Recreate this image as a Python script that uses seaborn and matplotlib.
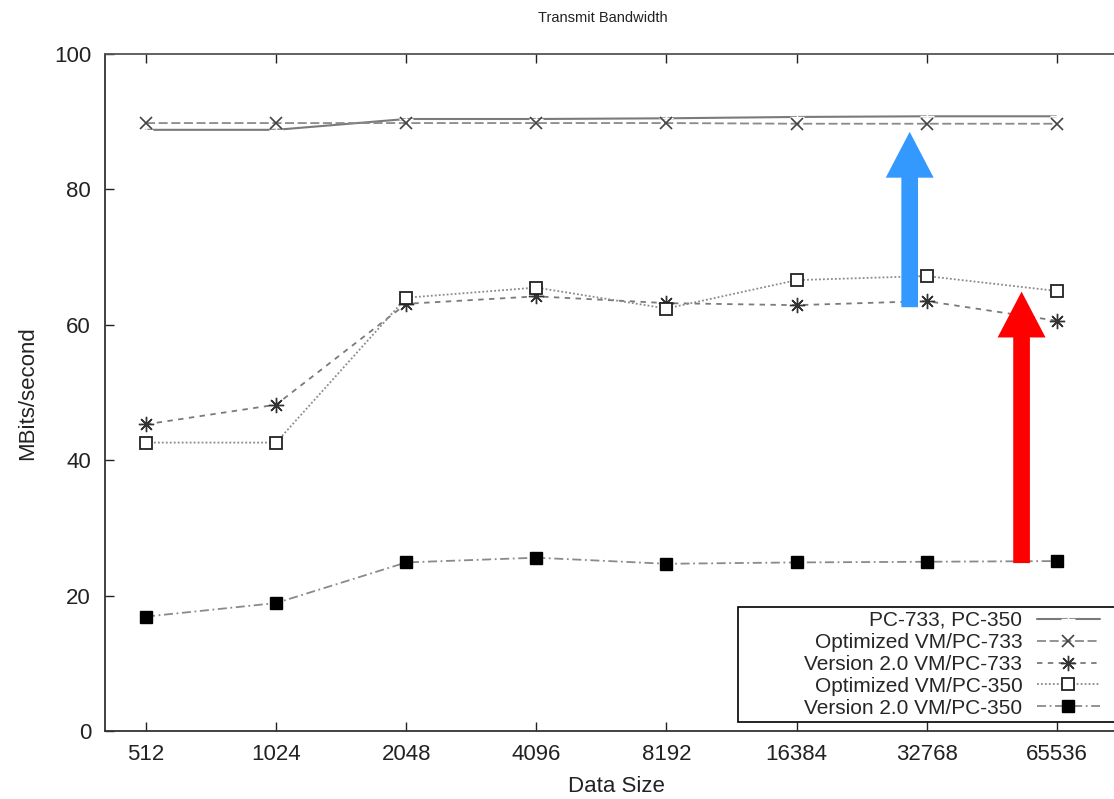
import matplotlib
matplotlib.use("Agg")
import matplotlib.pyplot as plt
from matplotlib.patches import Rectangle
import numpy as np
import pandas as pd
import seaborn as sns

# ---- data ----
data_sizes = ["512", "1024", "2048", "4096", "8192", "16384", "32768", "65536"]
pc733_pc350 = [88.8, 88.8, 90.4, 90.4, 90.5, 90.7, 90.8, 90.8]
opt_vm_pc733 = [89.8, 89.8, 89.8, 89.8, 89.8, 89.7, 89.7, 89.7]
v20_vm_pc733 = [45.3, 48.2, 63.1, 64.2, 63.2, 62.9, 63.5, 60.6]
opt_vm_pc350 = [42.6, 42.6, 64.0, 65.5, 62.4, 66.6, 67.2, 65.0]
v20_vm_pc350 = [16.9, 18.9, 24.9, 25.6, 24.7, 24.9, 25.0, 25.1]
series_labels = ["PC-733, PC-350", "Optimized VM/PC-733", "Version 2.0 VM/PC-733",
                 "Optimized VM/PC-350", "Version 2.0 VM/PC-350"]
y_ticks = [0, 20, 40, 60, 80, 100]
# arrows: (x position, y start, y end)
blue_arrow = (5.87, 62.6, 88.5)
red_arrow = (6.73, 24.8, 64.9)

sns.set_style("ticks")
plt.rcParams["font.family"] = ["Liberation Sans", "DejaVu Sans"]

W, H = 1114, 799
fig = plt.figure(figsize=(W / 100, H / 100), dpi=100)
ax_left, ax_right, ax_top, ax_bottom = 105, 1180, 54, 731
ax = fig.add_axes([ax_left / W, (H - ax_bottom) / H, (ax_right - ax_left) / W, (ax_bottom - ax_top) / H])

pos = np.arange(len(data_sizes))

styles = [
    dict(color="#7a7a7a", marker="+", ms=10, mew=1.0, linestyle="-", lw=1.5),
    dict(color="#8a8a8a", marker="x", ms=8, mew=1.2, mec="#444444", linestyle=(0, (5, 2)), lw=1.3),
    dict(color="#7a7a7a", marker=(8, 2, 0), ms=11, mew=1.0, mec="#333333", linestyle=(0, (3, 3)), lw=1.3),
    dict(color="#8a8a8a", marker="s", ms=8, mew=1.3, mec="#222222", mfc="white", linestyle=(0, (1, 1.2)), lw=1.3),
    dict(color="#8a8a8a", marker="s", ms=8, mew=1.0, mec="black", mfc="black", linestyle=(0, (5, 2, 1, 2)), lw=1.3),
]
all_series = [pc733_pc350, opt_vm_pc733, v20_vm_pc733, opt_vm_pc350, v20_vm_pc350]
for vals, lab, st in zip(all_series, series_labels, styles):
    sns.lineplot(x=pos, y=vals, ax=ax, label=lab, **st)

ax.set_xlim(-41 / 130.1, -41 / 130.1 + (ax_right - ax_left) / 130.1)
ax.set_ylim(0, 100)
ax.set_xticks(pos)
ax.set_xticklabels(data_sizes)
ax.set_yticks(y_ticks)
ax.tick_params(direction="in", length=6.5, width=1.0, top=True, right=True,
               labelsize=16, colors="#222222", pad=10)
ax.tick_params(axis="x", pad=9)
for sp in ax.spines.values():
    sp.set_linewidth(1.3)
    sp.set_color("#333333")
ax.spines["top"].set_color("#555555")
ax.set_xlabel("")
ax.set_ylabel("")

# arrows
for (x, y0, y1), col in [(blue_arrow, "#3399ff"), (red_arrow, "#ff0000")]:
    ax.annotate("", xy=(x, y1), xytext=(x, y0),
                arrowprops=dict(arrowstyle="simple,head_length=33,head_width=34.5,tail_width=12",
                                mutation_scale=1, color=col, shrinkA=0, shrinkB=0, lw=0),
                zorder=6)

# legend box + legend (gnuplot style, text left of sample)
rect = Rectangle((738 / W, (H - 722) / H), (1130 - 738) / W, (722 - 607) / H,
                 transform=fig.transFigure, facecolor="white", edgecolor="black",
                 lw=1.2, clip_on=False, zorder=7)
ax.add_patch(rect)
leg = ax.legend(loc="upper right", bbox_to_anchor=(1100 / W, (H - 611) / H),
                bbox_transform=fig.transFigure, frameon=False, markerfirst=False,
                borderpad=0, borderaxespad=0, fontsize=15, handlelength=3.03, handletextpad=0.7,
                labelspacing=0.14)
leg.set_zorder(8)

fig.text(603 / W, (H - 18) / H, "Transmit Bandwidth", ha="center", va="center", fontsize=10.5, color="#222222")
fig.text(616 / W, (H - 787) / H, "Data Size", ha="center", va="center", fontsize=16, color="#222222")
fig.text(28 / W, (H - 393) / H, "MBits/second", ha="center", va="center", rotation=90, fontsize=16, color="#222222")

fig.savefig("out.png", dpi=100)
